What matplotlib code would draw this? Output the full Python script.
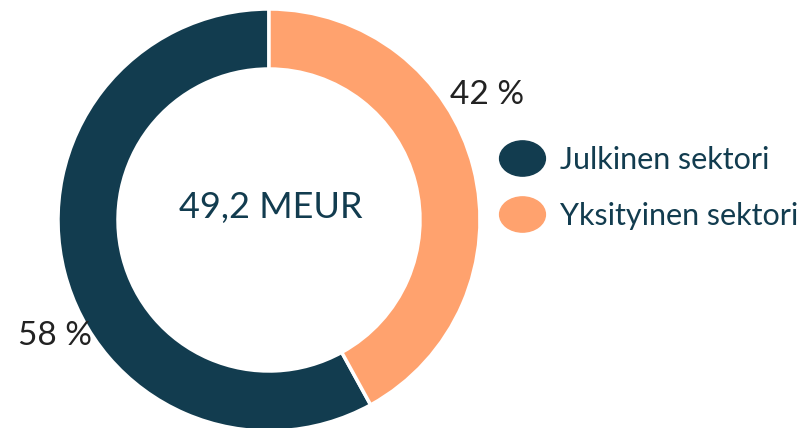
import matplotlib
matplotlib.use("Agg")
import matplotlib.pyplot as plt
from matplotlib.lines import Line2D
from matplotlib.path import Path
from matplotlib.transforms import Affine2D

sectors = ["Julkinen sektori", "Yksityinen sektori"]
shares = [58, 42]
share_labels = ["58 %", "42 %"]
total_label = "49,2 MEUR"

navy = "#123c4f"
orange = "#ffa26e"
colors = [navy, orange]

plt.rcParams["font.family"] = ["Lato", "DejaVu Sans"]

fig = plt.figure(figsize=(8.06, 4.28), dpi=100)
# donut axes: centre approx (269, 220) px, radius 211 px
ax = fig.add_axes([58 / 806, (208 - 211) / 428, 422 / 806, 422 / 428])
ax.pie(shares, colors=colors, startangle=90, counterclock=True, radius=1,
       wedgeprops=dict(width=60 / 211, edgecolor="white", linewidth=2.5))
ax.set_xlim(-1, 1)
ax.set_ylim(-1, 1)
ax.set_aspect("equal")
ax.axis("off")

ax.text(0.01, 0.06, total_label, ha="center", va="center", fontsize=26, color=navy)

fig.text(55 / 806, 1 - 336 / 428, share_labels[0], ha="center", va="center",
         fontsize=24, color="#222222")
fig.text(487 / 806, 1 - 95 / 428, share_labels[1], ha="center", va="center",
         fontsize=24, color="#222222")

blob = Path.unit_circle().transformed(Affine2D().scale(1.3, 1.0))
handles = [Line2D([], [], linestyle="none", marker=blob, markersize=33,
                  markerfacecolor=c, markeredgecolor=c) for c in colors]
fig.legend(handles, sectors, loc="upper left", bbox_to_anchor=(500 / 806, 1 - 146 / 428),
           frameon=False, fontsize=22, labelcolor=navy, handlelength=1.45,
           handletextpad=0.5, labelspacing=0.9, borderpad=0, borderaxespad=0)

fig.savefig("out.png", dpi=100)
